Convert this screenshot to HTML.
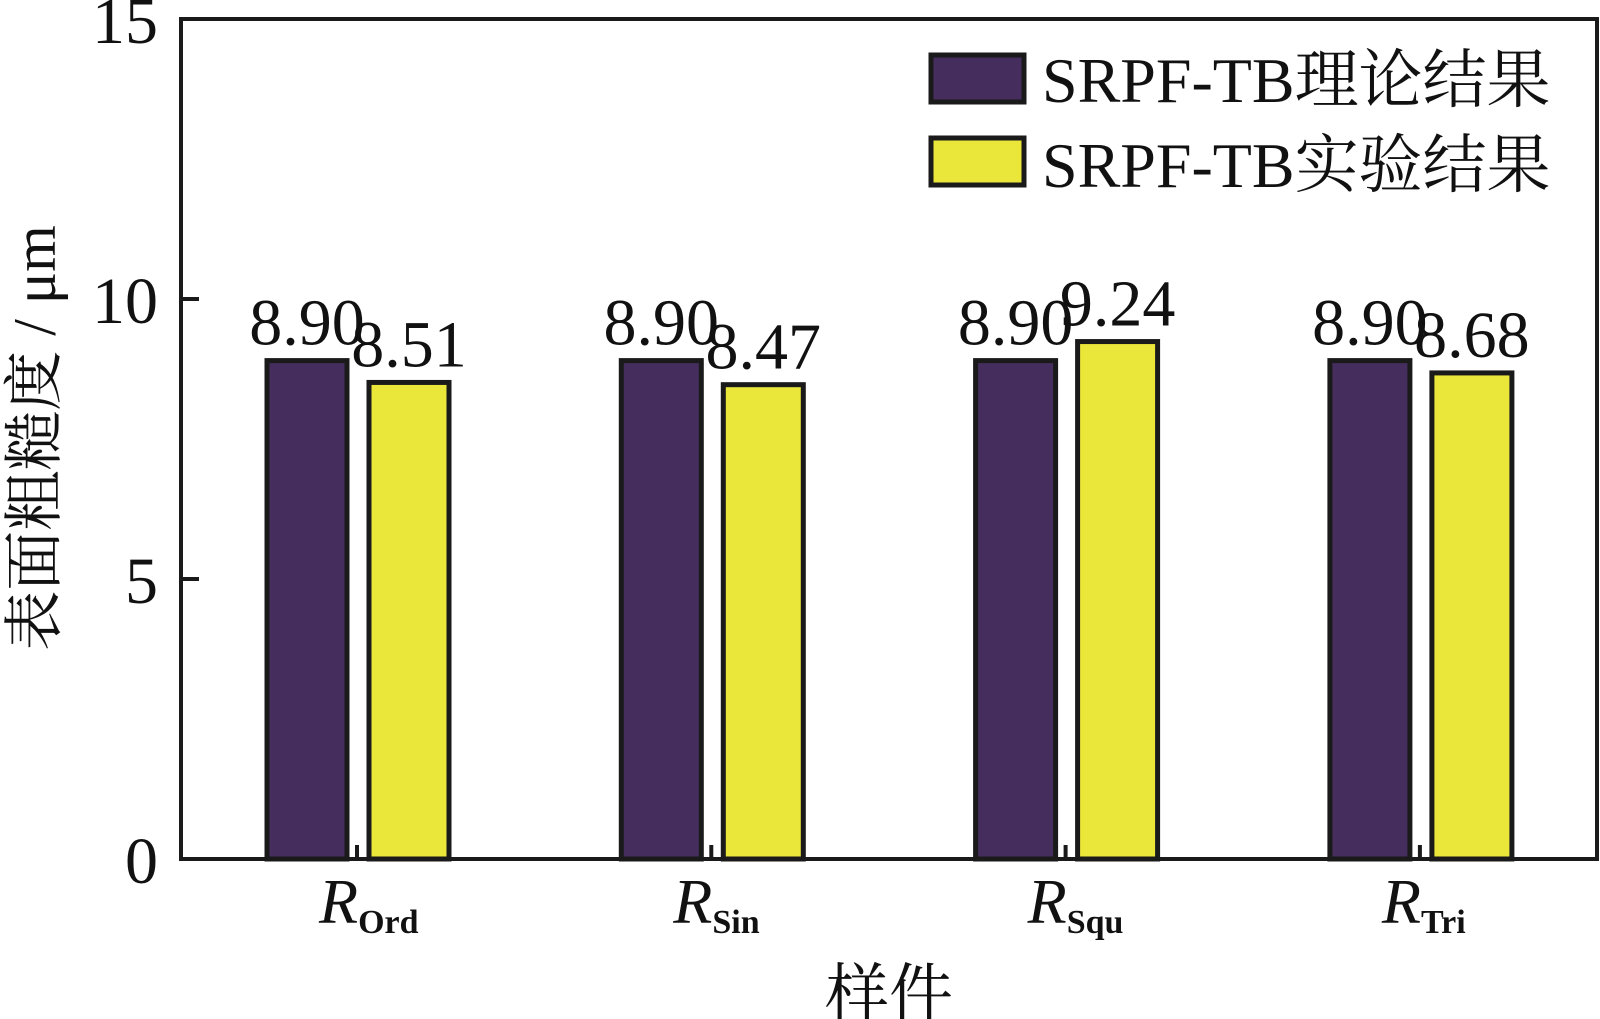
<!DOCTYPE html>
<html><head><meta charset="utf-8"><style>
html,body{margin:0;padding:0;background:#fff;}
svg{display:block;}
text{font-family:"Liberation Serif","Noto Serif CJK SC",serif;fill:#111;}
</style></head><body>
<svg id="chart" width="1600" height="1019" viewBox="0 0 1600 1019" xmlns="http://www.w3.org/2000/svg">
<rect x="181" y="19" width="1416" height="840" fill="none" stroke="#1a1a1a" stroke-width="4"/>
<g id="bars"></g>
<g id="yticks"></g>
<g id="xticks"></g>
<text transform="translate(55,438) rotate(-90)" text-anchor="middle" font-size="60">表面粗糙度 / μm</text>
<text x="889" y="1016" text-anchor="middle" font-size="64">样件</text>
<g>
<rect x="931" y="55" width="93" height="47" fill="#452d5e" stroke="#1a1a1a" stroke-width="5"/>
<text x="1042" y="102" font-size="64">SRPF-TB理论结果</text>
<rect x="931" y="138" width="93" height="47" fill="#ebe63a" stroke="#1a1a1a" stroke-width="5"/>
<text x="1042" y="187" font-size="64">SRPF-TB实验结果</text>
</g>
</svg>
<script>
const categories = ["Ord", "Sin", "Squ", "Tri"];
const theoryValues = [8.90, 8.90, 8.90, 8.90];
const experimentValues = [8.51, 8.47, 9.24, 8.68];
const yTickLabels = ["0", "5", "10", "15"];

const NS = "http://www.w3.org/2000/svg";
const y0 = 859, yTop = 19, yMax = 15;
function yScale(v){ return y0 - (v / yMax) * (y0 - yTop); }
const xLeft = 181, step = 354.3, firstCenter = 357;
function xScale(i){ return firstCenter + i * step; }

function mk(tag, attrs, parent){
  const el = document.createElementNS(NS, tag);
  for (const k in attrs) el.setAttribute(k, attrs[k]);
  parent.appendChild(el);
  return el;
}
const barsG = document.getElementById('bars');
const yG = document.getElementById('yticks');
const xG = document.getElementById('xticks');

yTickLabels.forEach(function(t){
  const v = parseFloat(t);
  const y = yScale(v);
  if (v > 0 && v < yMax) {
    const l = mk('line', {x1: xLeft, x2: xLeft + 18, y1: y, y2: y, stroke: '#1a1a1a', 'stroke-width': 4}, yG);
    
    
  }
  const tx = mk('text', {x: 158, y: y + 24, 'text-anchor': 'end', 'font-size': 66}, yG);
  
  
  tx.textContent = t;
});

function drawBar(cx, v, fill, name){
  const yt = yScale(v);
  const r = mk('rect', {x: cx, y: yt, width: 80, height: y0 - yt, fill: fill, stroke: '#1a1a1a', 'stroke-width': 5}, barsG);
  
  
  const t = mk('text', {x: cx + 40, y: yt - 16, 'text-anchor': 'middle', 'font-size': 66}, barsG);
  
  
  t.textContent = v.toFixed(2);
}

categories.forEach(function(c, i){
  const cx = xScale(i);
  drawBar(cx - 90, theoryValues[i], '#452d5e', 'bar-theory-' + c.toLowerCase());
  drawBar(cx + 12, experimentValues[i], '#ebe63a', 'bar-experiment-' + c.toLowerCase());
  const tk = mk('line', {x1: cx, x2: cx, y1: y0, y2: y0 - 14, stroke: '#1a1a1a', 'stroke-width': 4}, xG);
  
  
  const lab = mk('text', {x: cx - 38, y: 923, 'font-size': 64}, xG);
  
  
  const r = mk('tspan', {'font-style': 'italic'}, lab);
  r.textContent = 'R';
  const s = mk('tspan', {'font-size': 34, 'font-weight': 'bold', dy: 10}, lab);
  s.textContent = c;
});
</script>
</body></html>
